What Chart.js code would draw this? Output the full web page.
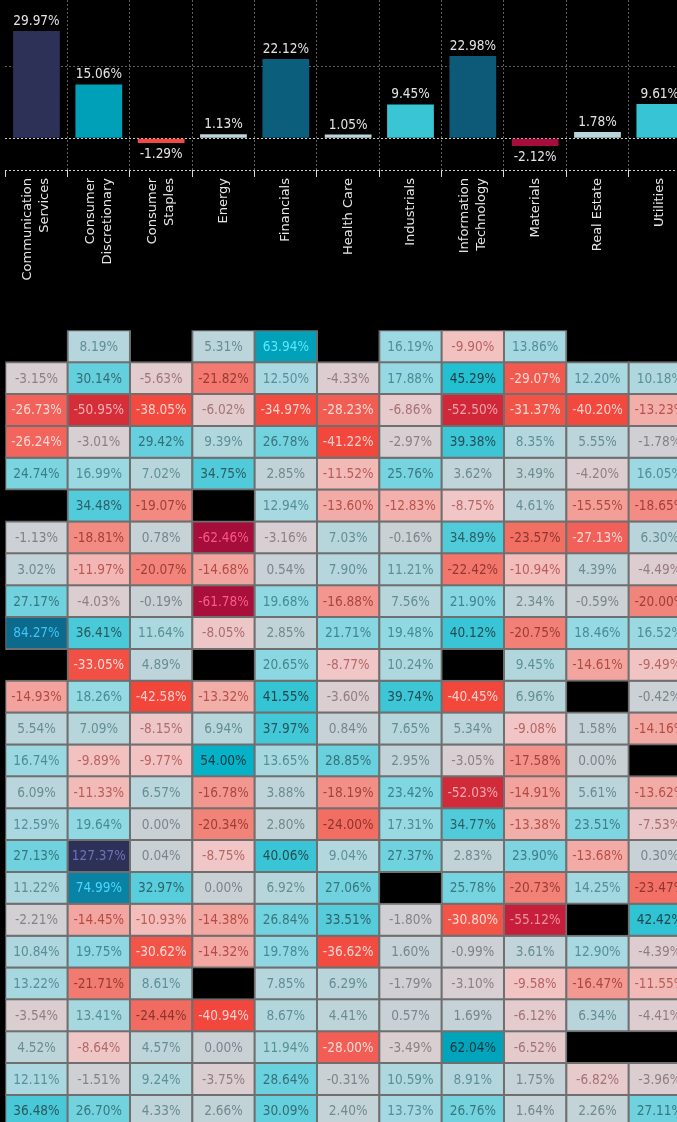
<!DOCTYPE html>
<html lang="en">
<head>
<meta charset="UTF-8">
<title>Sector returns</title>
<script src="https://cdn.jsdelivr.net/npm/chart.js"></script>
<style>
    html, body { margin: 0; padding: 0; background: #000; overflow: hidden; }
    #wrap { position: relative; width: 677px; height: 1122px; overflow: hidden; background: #000; }
    #barCanvas { position: absolute; left: 0; top: 0; }
    #heatCanvas { position: absolute; left: 0; top: 320px; }
</style>
</head>
<body>
<div id="wrap">
    <canvas id="barCanvas" width="700" height="330"></canvas>
    <canvas id="heatCanvas" width="700" height="810"></canvas>
</div>
<script>
// categories and the yearly figures
var sectors = [['Communication', 'Services'], ['Consumer', 'Discretionary'], ['Consumer', 'Staples'], 'Energy', 'Financials',
    'Health Care', 'Industrials', ['Information', 'Technology'], 'Materials', 'Real Estate', 'Utilities'];
var ytdReturns = [29.97, 15.06, -1.29, 1.13, 22.12, 1.05, 9.45, 22.98, -2.12, 1.78, 9.61];
var barGridValues = [0, 20];

// one column of the table per sector, top row first (null = no data)
var commServices = [null, -3.15, -26.73, -26.24, 24.74, null, -1.13, 3.02, 27.17, 84.27, null, -14.93, 5.54, 16.74, 6.09, 12.59, 27.13, 11.22, -2.21, 10.84, 13.22, -3.54, 4.52, 12.11, 36.48];
var consDiscretionary = [8.19, 30.14, -50.95, -3.01, 16.99, 34.48, -18.81, -11.97, -4.03, 36.41, -33.05, 18.26, 7.09, -9.89, -11.33, 19.64, 127.37, 74.99, -14.45, 19.75, -21.71, 13.41, -8.64, -1.51, 26.70];
var consStaples = [null, -5.63, -38.05, 29.42, 7.02, -19.07, 0.78, -20.07, -0.19, 11.64, 4.89, -42.58, -8.15, -9.77, 6.57, 0.00, 0.04, 32.97, -10.93, -30.62, 8.61, -24.44, 4.57, 9.24, 4.33];
var energy = [5.31, -21.82, -6.02, 9.39, 34.75, null, -62.46, -14.68, -61.78, -8.05, null, -13.32, 6.94, 54.00, -16.78, -20.34, -8.75, 0.00, -14.38, -14.32, null, -40.94, 0.00, -3.75, 2.66];
var financials = [63.94, 12.50, -34.97, 26.78, 2.85, 12.94, -3.16, 0.54, 19.68, 2.85, 20.65, 41.55, 37.97, 13.65, 3.88, 2.80, 40.06, 6.92, 26.84, 19.78, 7.85, 8.67, 11.94, 28.64, 30.09];
var healthCare = [null, -4.33, -28.23, -41.22, -11.52, -13.60, 7.03, 7.90, -16.88, 21.71, -8.77, -3.60, 0.84, 28.85, -18.19, -24.00, 9.04, 27.06, 33.51, -36.62, 6.29, 4.41, -28.00, -0.31, 2.40];
var industrials = [16.19, 17.88, -6.86, -2.97, 25.76, -12.83, -0.16, 11.21, 7.56, 19.48, 10.24, 39.74, 7.65, 2.95, 23.42, 17.31, 27.37, null, -1.80, 1.60, -1.79, 0.57, -3.49, 10.59, 13.73];
var infoTech = [-9.90, 45.29, -52.50, 39.38, 3.62, -8.75, 34.89, -22.42, 21.90, 40.12, null, -40.45, 5.34, -3.05, -52.03, 34.77, 2.83, 25.78, -30.80, -0.99, -3.10, 1.69, 62.04, 8.91, 26.76];
var materials = [13.86, -29.07, -31.37, 8.35, 3.49, 4.61, -23.57, -10.94, 2.34, -20.75, 9.45, 6.96, -9.08, -17.58, -14.91, -13.38, 23.90, -20.73, -55.12, 3.61, -9.58, -6.12, -6.52, 1.75, 1.64];
var realEstate = [null, 12.20, -40.20, 5.55, -4.20, -15.55, -27.13, 4.39, -0.59, 18.46, -14.61, null, 1.58, 0.00, 5.61, 23.51, -13.68, 14.25, null, 12.90, -16.47, 6.34, null, -6.82, 2.26];
var utilities = [null, 10.18, -13.23, -1.78, 16.05, -18.65, 6.30, -4.49, -20.00, 16.52, -9.49, -0.42, -14.16, null, -13.62, -7.53, 0.30, -23.47, 42.42, -4.39, -11.55, -4.41, null, -3.96, 27.11];

var columns = [commServices, consDiscretionary, consStaples, energy, financials, healthCare,
    industrials, infoTech, materials, realEstate, utilities];

var numFont = '13.5px "DejaVu Sans Condensed", "DejaVu Sans"';
var labelFont = '13px "DejaVu Sans"';

// diverging colour ramp: positives scaled to the max, negatives to the min
var posStops = [[0, '#c9d1d5'], [0.04, '#bcd5da'], [0.1, '#a9d8e0'], [0.15, '#92d9e3'], [0.2, '#77d4e0'], [0.24, '#62cfdd'],
    [0.31, '#3dc6d6'], [0.36, '#21bfd1'], [0.42, '#05b3c8'], [0.5, '#00a2b9'], [0.59, '#0982a3'], [0.66, '#0c6a8c'],
    [0.76, '#0c5a79'], [1, '#2d3158']];
var negStops = [[0, '#c9d1d5'], [0.03, '#d0d0d4'], [0.05, '#d8cfd2'], [0.1, '#e4cbcd'], [0.14, '#f0c6c6'], [0.16, '#f2c2c1'],
    [0.19, '#f2b8b5'], [0.22, '#f2aba6'], [0.26, '#f29a93'], [0.3, '#f28c83'], [0.35, '#f27a70'], [0.38, '#f26e63'],
    [0.43, '#f2625a'], [0.49, '#f25548'], [0.56, '#f24c40'], [0.68, '#f2463b'], [0.82, '#d42d38'], [0.88, '#c81f3b'], [1, '#a50d3a']];

function hexToRgb(hex) {
    hex = hex.replace('#', '');
    return [parseInt(hex.substring(0, 2), 16), parseInt(hex.substring(2, 4), 16), parseInt(hex.substring(4, 6), 16)];
}

function ramp(stops, t) {
    t = Math.max(0, Math.min(1, t));
    for (var i = 1; i < stops.length; i++) {
        if (t <= stops[i][0]) {
            var a = hexToRgb(stops[i - 1][1]), b = hexToRgb(stops[i][1]);
            var f = (t - stops[i - 1][0]) / (stops[i][0] - stops[i - 1][0]);
            return [0, 1, 2].map(function (k) { return Math.round(a[k] + (b[k] - a[k]) * f); });
        }
    }
    return hexToRgb(stops[stops.length - 1][1]);
}

function valueRgb(v, lo, hi) {
    return v >= 0 ? ramp(posStops, v / hi) : ramp(negStops, v / lo);
}

function rgbStr(c) {
    return 'rgb(' + c[0] + ',' + c[1] + ',' + c[2] + ')';
}

function luminance(c) {
    var l = c.map(function (x) {
        x = x / 255;
        return x <= 0.03928 ? x / 12.92 : Math.pow((x + 0.055) / 1.055, 2.4);
    });
    return 0.2126 * l[0] + 0.7152 * l[1] + 0.0722 * l[2];
}

function toHsl(c) {
    var r = c[0] / 255, g = c[1] / 255, b = c[2] / 255;
    var max = Math.max(r, g, b), min = Math.min(r, g, b);
    var h = 0, s = 0, l = (max + min) / 2;
    if (max !== min) {
        var d = max - min;
        s = l > 0.5 ? d / (2 - max - min) : d / (max + min);
        if (max === r) h = (g - b) / d + (g < b ? 6 : 0);
        else if (max === g) h = (b - r) / d + 2;
        else h = (r - g) / d + 4;
        h *= 60;
    }
    return [h, s * 100, l * 100];
}

// text takes the hue of its cell, darker on light cells and lighter on dark ones
function textColor(c) {
    var hsl = toHsl(c);
    if (luminance(c) > 0.3) {
        return 'hsl(' + hsl[0] + ',' + (hsl[1] * 0.6) + '%,' + Math.max(hsl[2] - 30, 15) + '%)';
    }
    return 'hsl(' + hsl[0] + ',' + Math.min(hsl[1] * 1.1, 100) + '%,' + Math.min(hsl[2] + 31, 92) + '%)';
}

var barLo = Math.min.apply(null, ytdReturns);
var barHi = Math.max.apply(null, ytdReturns);
var allCells = [].concat.apply([], columns).filter(function (v) { return v !== null; });
var tableLo = Math.min.apply(null, allCells);
var tableHi = Math.max.apply(null, allCells);

var YMIN = -8.85, YMAX = 38.63;

var barText = {
    id: 'barText',
    afterDatasetsDraw: function (chart) {
        var ctx = chart.ctx;
        ctx.save();
        ctx.font = numFont;
        ctx.fillStyle = '#e4e4e4';
        ctx.textAlign = 'center';
        ctx.textBaseline = 'alphabetic';
        chart.getDatasetMeta(0).data.forEach(function (bar, i) {
            var v = ytdReturns[i];
            var txt = v.toFixed(2) + '%';
            if (v >= 0) {
                ctx.fillText(txt, bar.x, bar.y - 6);
            } else {
                ctx.fillText(txt, bar.x, bar.y + 15);
            }
        });
        // rotated sector names under the axis
        var xs = chart.scales.x;
        ctx.font = labelFont;
        ctx.fillStyle = '#e6e6e6';
        ctx.textAlign = 'right';
        ctx.textBaseline = 'middle';
        sectors.forEach(function (lab, i) {
            var lines = Array.isArray(lab) ? lab : [lab];
            var px = xs.getPixelForTick(i);
            lines.forEach(function (line, j) {
                var cx = px + (j - (lines.length - 1) / 2) * 17;
                ctx.save();
                ctx.translate(cx, xs.top + 8);
                ctx.rotate(-Math.PI / 2);
                ctx.fillText(line, 0, 0);
                ctx.restore();
            });
        });
        ctx.restore();
    }
};

new Chart(document.getElementById('barCanvas'), {
    type: 'bar',
    data: {
        labels: sectors,
        datasets: [{
            data: ytdReturns,
            backgroundColor: ytdReturns.map(function (v) { return rgbStr(valueRgb(v, barLo, barHi)); }),
            barPercentage: 0.75,
            categoryPercentage: 1
        }]
    },
    options: {
        responsive: false,
        animation: false,
        devicePixelRatio: 1,
        layout: { padding: { left: 5.3, right: 9, top: 0, bottom: 0 } },
        plugins: { legend: { display: false }, tooltip: { enabled: false } },
        scales: {
            x: {
                offset: true,
                grid: {
                    offset: true,
                    color: function (c) { return c.index === 0 ? 'rgba(0,0,0,0)' : '#5c5c5c'; },
                    tickColor: '#d8d8d8',
                    tickLength: 7,
                    tickBorderDash: []
                },
                border: { display: false, dash: [2, 2] },
                ticks: { display: false },
                afterFit: function (s) { s.height = 160; }
            },
            y: {
                min: YMIN,
                max: YMAX,
                afterBuildTicks: function (s) {
                    s.ticks = [YMIN].concat(barGridValues).map(function (v) { return { value: v }; });
                },
                afterFit: function (s) { s.width = 0; },
                ticks: { display: false },
                grid: {
                    drawTicks: false,
                    color: function (c) { return c.tick && c.tick.value > 0 ? '#5c5c5c' : '#c8c8c8'; }
                },
                border: { display: false, dash: [2, 2] }
            }
        }
    },
    plugins: [barText]
});

// heatmap: every row is a dataset of floating bars spanning one row of the y scale
var rowCount = commServices.length;
var heatSets = [];
for (var r = 0; r < rowCount; r++) {
    heatSets.push({
        data: columns.map(function (col) { return col[r] === null ? null : [r, r + 1]; }),
        backgroundColor: columns.map(function (col) {
            return col[r] === null ? 'rgba(0,0,0,0)' : rgbStr(valueRgb(col[r], tableLo, tableHi));
        }),
        borderColor: '#6f6f6f',
        borderWidth: 2,
        borderSkipped: false,
        inflateAmount: 1,
        grouped: false,
        barPercentage: 1,
        categoryPercentage: 1
    });
}

var cellText = {
    id: 'cellText',
    afterDatasetsDraw: function (chart) {
        var ctx = chart.ctx;
        ctx.save();
        ctx.font = numFont;
        ctx.textAlign = 'center';
        ctx.textBaseline = 'middle';
        for (var r = 0; r < rowCount; r++) {
            chart.getDatasetMeta(r).data.forEach(function (el, c) {
                var v = columns[c][r];
                if (v === null) return;
                var p = el.getProps(['x', 'y', 'base'], true);
                ctx.fillStyle = textColor(valueRgb(v, tableLo, tableHi));
                ctx.fillText(v.toFixed(2) + '%', p.x, (p.y + p.base) / 2 + 1);
            });
        }
        ctx.restore();
    }
};

new Chart(document.getElementById('heatCanvas'), {
    type: 'bar',
    data: { labels: sectors, datasets: heatSets },
    options: {
        responsive: false,
        animation: false,
        devicePixelRatio: 1,
        layout: { padding: { left: 5.3, right: 9, top: 10.3, bottom: 3.2 } },
        plugins: { legend: { display: false }, tooltip: { enabled: false } },
        scales: {
            x: { display: false, offset: true },
            y: { display: false, min: 0, max: rowCount, reverse: true }
        }
    },
    plugins: [cellText]
});
</script>
</body>
</html>
